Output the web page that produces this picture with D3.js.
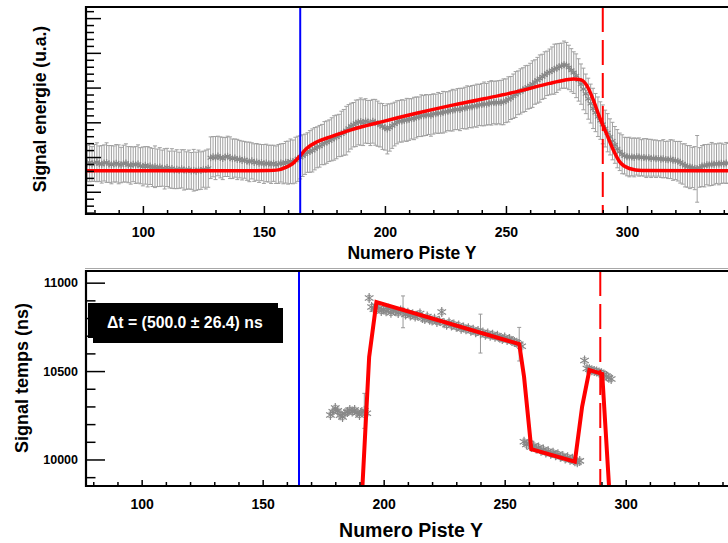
<!DOCTYPE html>
<html><head><meta charset="utf-8">
<script src="https://cdn.jsdelivr.net/npm/d3@7"></script>
<style>body{margin:0;background:#fff}svg{display:block}text{font-family:"Liberation Sans",Arial,sans-serif;font-weight:bold}</style>
</head><body><div id="c"></div>
<script>
// ---------- DATA ----------
const xTitle = "Numero Piste Y";
const yTitleTop = "Signal energie (u.a.)";
const yTitleBot = "Signal temps (ns)";
const boxText = "\u0394t = (500.0 \u00b1 26.4) ns";
const xTicks = [100, 150, 200, 250, 300];
const yTicksTop = [0, 100, 200, 300, 400, 500];
const yTicksBot = [10000, 10500, 11000];
const blueStrip = 165;
const redStripTop = 290;
const redStripBot = 289.5;

// energy signal, one value per strip starting at strip 77
const energyStart = 77;
const energyVal = [
 82,84,80,83,85,81,79,83,84,80,
 78,80,82,79,77,81,83,78,76,79,
 77,80,75,73,76,72,74,70,72,69,
 71,68,66,70,64,67,63,65,62,66,
 63,61,64,60,62,59,63,61,65,64,
 68,98,101,97,103,99,96,100,102,98,
 95,97,93,94,90,92,88,86,89,84,
 86,82,84,80,83,81,79,82,78,80,
 83,81,85,84,88,86,91,95,99,104,
 108,113,116,119,124,128,131,136,140,143,
 147,151,155,158,162,167,171,176,183,189,
 193,197,200,202,199,204,201,198,203,200,
 196,192,188,184,181,185,190,195,200,203,
 204,205,207,208,210,211,214,216,219,219,
 221,222,220,224,225,227,226,229,230,232,
 233,235,236,238,237,240,241,243,244,245,
 247,248,250,251,253,252,255,256,257,256,
 258,257,259,262,266,270,275,280,285,289,
 293,297,301,305,310,316,321,326,331,336,
 341,345,349,353,356,360,363,366,364,358,
 350,343,334,322,310,296,282,268,254,240,
 228,216,205,194,182,170,158,146,135,124,
 115,108,104,101,100,100,99,101,100,98,
 99,97,98,96,97,95,96,94,95,93,
 92,94,91,90,88,85,80,76,73,71,
 70,68,66,70,74,75,78,77,80,79,
 81,80,82,81,83,82,80,81,83,82];
const energyErr = [
 52,55,50,53,56,51,54,52,57,53,
 55,52,54,56,51,53,55,52,54,50,
 53,55,52,56,54,58,53,55,60,54,
 56,52,58,55,53,57,54,56,52,55,
 58,54,56,53,60,55,57,54,52,56,
 55,60,58,62,57,59,61,56,58,60,
 57,55,58,54,56,53,55,57,52,54,
 53,55,52,56,54,53,55,52,54,56,
 55,58,60,62,64,63,66,65,62,60,
 58,57,60,62,61,59,60,58,62,61,
 60,62,64,63,61,65,66,70,68,66,
 64,67,65,68,66,64,62,65,63,66,
 65,63,66,64,72,68,65,63,62,60,
 61,59,62,60,58,61,59,57,60,58,
 59,57,60,58,56,59,57,60,58,56,
 58,60,57,59,61,58,60,62,59,61,
 60,62,59,61,63,60,62,64,61,63,
 62,64,66,63,65,62,64,66,63,65,
 64,66,63,65,67,64,66,68,65,67,
 64,66,68,72,70,67,65,68,66,64,
 62,60,63,61,58,60,57,59,56,58,
 55,57,54,56,53,55,52,54,53,55,
 54,56,53,55,57,54,56,53,55,52,
 54,56,53,55,52,54,51,53,55,52,
 54,56,58,55,57,60,58,62,60,62,
 58,62,96,57,59,61,58,60,62,59,
 57,60,58,56,59,57,55,58,56,57];

// energy fit curve
const fitStrip = [76.5,144,152,156,159,162,164.5,167.5,172,177.5,186,199,213,227,241,255,268,274,278,281,283.5,286,288.5,291.5,294.5,297,301,306,350];
const fitEnergy = [60.5,60.5,61,63,70,82,100,124,144,158,178,202,226,248,268,289,312,321,325,322,305,266,218,168,118,86,67,61,60.5];

// time signal
const timeStrip = [178,179,180,181,182,183,184,185,186,187,188,189,190,191,192,193,
 194,195,196,197,198,199,200,201,202,203,204,205,206,207,208,209,210,211,212,213,214,215,216,217,218,219,220,
 221,222,223,224,225,226,227,228,229,230,231,232,233,234,235,236,237,238,239,240,241,242,243,244,245,246,247,
 248,249,250,251,252,253,254,255,256,257,
 258,259,260,261,262,263,264,265,266,267,268,269,270,271,272,273,274,275,276,277,278,279,280,281,
 283,284,285,286,287,288,289,290,291,292,293,294];
const timeVal = [10252,10270,10291,10275,10250,10240,10262,10269,10280,10272,10280,10265,10252,10268,10275,10262,
 10913,10862,10850,10868,10855,10840,10848,10838,10852,10830,10845,10838,10828,10842,10835,10820,10830,10815,10822,10808,10814,10826,10800,10794,10808,10790,10786,
 10796,10778,10784,10834,10770,10762,10775,10758,10764,10750,10758,10740,10746,10736,10742,10728,10734,10720,10726,10712,10718,10705,10712,10700,10706,10694,10700,
 10688,10682,10690,10676,10682,10670,10664,10660,10652,10640,
 10100,10085,10092,10070,10078,10062,10068,10050,10056,10040,10046,10032,10038,10024,10030,10016,10020,10006,10012,9998,10004,9990,9984,9992,
 10560,10515,10510,10505,10500,10498,10492,10488,10480,10472,10462,10455];
const timeErr = [15,15,15,15,15,15,15,15,15,15,15,15,15,15,99,15,
 15,15,15,15,15,15,15,15,15,15,15,15,15,15,90,15,15,15,15,15,15,15,15,15,15,15,15,
 15,15,15,15,15,15,15,15,15,15,15,15,15,15,15,15,15,15,15,110,15,15,15,15,15,15,15,
 15,15,15,15,15,15,15,15,95,15,
 15,15,15,15,15,15,15,15,15,15,15,15,15,15,15,15,15,15,15,15,15,15,15,15,
 15,15,15,15,15,15,15,15,15,15,15,15];

// time fit (piecewise)
const tFitStrip = [191,194,197,256,258,261,279,282,285,290.3,294];
const tFitVal = [9790,10580,10890,10653,10468,10058,9988,10299,10506,10484,9650];

// ---------- DRAW ----------
const W = 728, H = 543;
const svg = d3.select("#c").append("svg").attr("width", W).attr("height", H);

const pTop = {l: 86, t: 7, b: 214, r: 760};
const pBot = {l: 86, t: 271, b: 486, r: 760};

const xTop = d3.scaleLinear().domain([76.5, 350]).range([86, 748]);
const yTop = d3.scaleLinear().domain([-64, 532]).range([214, 7]);
const xBot = d3.scaleLinear().domain([77, 350]).range([86, 746.7]);
const yBot = d3.scaleLinear().domain([9850, 11066]).range([486, 271]);

const defs = svg.append("defs");
defs.append("clipPath").attr("id", "cTop").append("rect")
  .attr("x", pTop.l).attr("y", pTop.t).attr("width", pTop.r - pTop.l).attr("height", pTop.b - pTop.t);
defs.append("clipPath").attr("id", "cBot").append("rect")
  .attr("x", pBot.l).attr("y", pBot.t).attr("width", pBot.r - pBot.l).attr("height", pBot.b - pBot.t);

// pad separator
svg.append("line").attr("x1", 85).attr("x2", W).attr("y1", 268.5).attr("y2", 268.5)
  .attr("stroke", "#a8a8a8").attr("stroke-width", 1);

function axes(g, x, y, P, yMaj, yMin, yMajLen, yMinLen, xMajLen, xMinLen, yLabels, xFont, yFont) {
  const gx = g.append("g").attr("transform", `translate(0,${P.b})`);
  gx.call(d3.axisBottom(x).tickValues(xTicks).tickSize(-xMajLen).tickPadding(0).tickFormat(d3.format("d")));
  gx.selectAll("text").attr("y", 13.5).attr("font-size", xFont).attr("fill", "#000");
  const minorX = d3.range(80, 351, 10).filter(v => v % 50 !== 0);
  g.append("g").attr("transform", `translate(0,${P.b})`)
    .call(d3.axisBottom(x).tickValues(minorX).tickSize(-xMinLen).tickFormat(""));
  const gy = g.append("g").attr("transform", `translate(${P.l},0)`);
  gy.call(d3.axisLeft(y).tickValues(yMaj).tickSize(-yMajLen).tickPadding(8).tickFormat(yLabels ? d3.format("d") : ""));
  gy.selectAll("text").attr("font-size", yFont).attr("fill", "#000");
  g.append("g").attr("transform", `translate(${P.l},0)`)
    .call(d3.axisLeft(y).tickValues(yMin).tickSize(-yMinLen).tickFormat(""));
  g.selectAll(".domain").remove();
  g.selectAll(".tick line").attr("stroke", "#000").attr("stroke-width", 1.5);
  g.append("path").attr("d", `M${P.r},${P.t}H${P.l}V${P.b}H${P.r}`)
    .attr("fill", "none").attr("stroke", "#000").attr("stroke-width", 2.2);
}

// ---- TOP PANEL ----
const gT = svg.append("g");
const plotT = gT.append("g").attr("clip-path", "url(#cTop)");
const eData = energyVal.map((v, i) => ({s: energyStart + i, v, e: energyErr[i]}));
plotT.append("g").selectAll("path").data(eData).join("path")
  .attr("d", d => {
    const x = xTop(d.s), y0 = yTop(d.v - d.e), y1 = yTop(d.v + d.e);
    return `M${x},${y0}V${y1}M${x - 2},${y0}H${x + 2}M${x - 2},${y1}H${x + 2}`;
  })
  .attr("stroke", "#a0a0a0").attr("stroke-width", 1).attr("fill", "none");
const starSmall = d3.symbol().type(d3.symbolAsterisk).size(34);
plotT.append("g").selectAll("path").data(eData).join("path")
  .attr("transform", d => `translate(${xTop(d.s)},${yTop(d.v)})`)
  .attr("d", starSmall).attr("stroke", "#888").attr("stroke-width", 1.2).attr("fill", "none");
plotT.append("path")
  .datum(fitStrip.map((s, i) => [s, fitEnergy[i]]))
  .attr("d", d3.line().x(d => xTop(d[0])).y(d => yTop(d[1])).curve(d3.curveMonotoneX))
  .attr("fill", "none").attr("stroke", "#ff0000").attr("stroke-width", 3.5);
gT.append("line").attr("x1", xTop(blueStrip)).attr("x2", xTop(blueStrip)).attr("y1", pTop.t).attr("y2", pTop.b)
  .attr("stroke", "#0000ff").attr("stroke-width", 2);
gT.append("line").attr("x1", xTop(redStripTop)).attr("x2", xTop(redStripTop)).attr("y1", pTop.t).attr("y2", pTop.b)
  .attr("stroke", "#ff0000").attr("stroke-width", 2).attr("stroke-dasharray", "25,8");
axes(gT, xTop, yTop, pTop, yTicksTop, d3.range(-60, 532, 20).filter(v => v % 100 !== 0), 15, 8, 8, 4, false, 14, 12);

gT.append("text").attr("x", 412).attr("y", 259).attr("text-anchor", "middle")
  .attr("font-size", 17.5).text(xTitle);
gT.append("text").attr("transform", "translate(46,109) rotate(-90)").attr("text-anchor", "middle")
  .attr("font-size", 17.5).text(yTitleTop);

// ---- BOTTOM PANEL ----
const gB = svg.append("g");
const plotB = gB.append("g").attr("clip-path", "url(#cBot)");
const tData = timeStrip.map((s, i) => ({s, v: timeVal[i], e: timeErr[i]}));
plotB.append("g").selectAll("path").data(tData).join("path")
  .attr("d", d => {
    const x = xBot(d.s), y0 = yBot(d.v - d.e), y1 = yBot(d.v + d.e);
    return `M${x},${y0}V${y1}M${x - 2},${y0}H${x + 2}M${x - 2},${y1}H${x + 2}`;
  })
  .attr("stroke", "#999").attr("stroke-width", 1).attr("fill", "none");
const starBig = d3.symbol().type(d3.symbolAsterisk).size(70);
plotB.append("g").selectAll("path").data(tData).join("path")
  .attr("transform", d => `translate(${xBot(d.s)},${yBot(d.v)})`)
  .attr("d", starBig).attr("stroke", "#888").attr("stroke-width", 1.2).attr("fill", "none");
plotB.append("path")
  .datum(tFitStrip.map((s, i) => [s, tFitVal[i]]))
  .attr("d", d3.line().x(d => xBot(d[0])).y(d => yBot(d[1])))
  .attr("fill", "none").attr("stroke", "#ff0000").attr("stroke-width", 4).attr("stroke-linejoin", "miter");
gB.append("line").attr("x1", xBot(blueStrip)).attr("x2", xBot(blueStrip)).attr("y1", pBot.t).attr("y2", pBot.b)
  .attr("stroke", "#0000ff").attr("stroke-width", 2);
gB.append("line").attr("x1", xBot(redStripBot)).attr("x2", xBot(redStripBot)).attr("y1", pBot.t).attr("y2", pBot.b)
  .attr("stroke", "#ff0000").attr("stroke-width", 2).attr("stroke-dasharray", "25,8");
axes(gB, xBot, yBot, pBot, yTicksBot, d3.range(9900, 11066, 100).filter(v => v % 500 !== 0), 19, 9.5, 6, 4, true, 14, 12.5);

// text box with shadow
gB.append("rect").attr("x", 93).attr("y", 308).attr("width", 190).attr("height", 35).attr("fill", "#000");
gB.append("rect").attr("x", 88).attr("y", 303).attr("width", 190).attr("height", 35).attr("fill", "#000");
gB.append("text").attr("x", 107).attr("y", 328).attr("fill", "#fff").attr("font-size", 15.8).text(boxText);

gB.append("text").attr("x", 411).attr("y", 537).attr("text-anchor", "middle")
  .attr("font-size", 19.5).text(xTitle);
gB.append("text").attr("transform", "translate(28,378) rotate(-90)").attr("text-anchor", "middle")
  .attr("font-size", 18).text(yTitleBot);
</script></body></html>
